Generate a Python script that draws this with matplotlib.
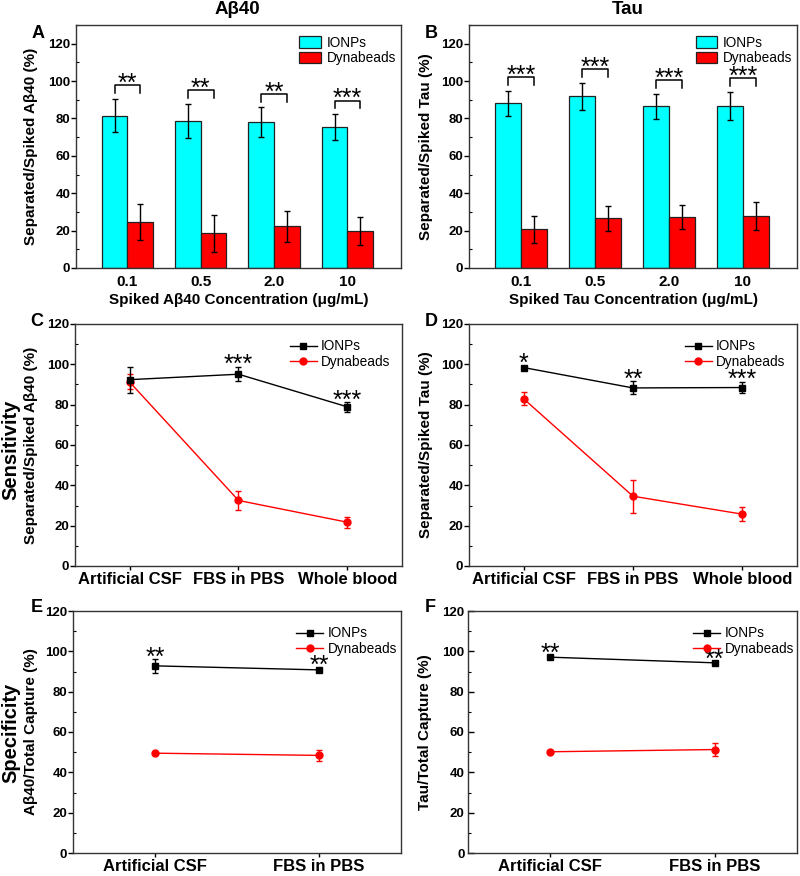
import matplotlib
matplotlib.use("Agg")
import matplotlib.pyplot as plt
import numpy as np
from matplotlib.ticker import MultipleLocator

plt.rcParams["font.family"] = ["Liberation Sans", "DejaVu Sans"]

# Panel A / B: capture vs. spiked concentration
conc_labels = ["0.1", "0.5", "2.0", "10"]
ab_ionp = [81.5, 78.6, 77.9, 75.4]
ab_ionp_err = [9.0, 9.2, 8.0, 7.0]
ab_dyna = [24.7, 18.6, 22.4, 19.7]
ab_dyna_err = [9.5, 10.0, 8.3, 7.4]
ab_stars = ["**", "**", "**", "***"]

tau_ionp = [88.1, 91.9, 86.5, 86.9]
tau_ionp_err = [6.8, 7.2, 6.8, 7.5]
tau_dyna = [20.6, 26.5, 27.2, 27.9]
tau_dyna_err = [7.2, 6.8, 6.3, 7.5]
tau_stars = ["***", "***", "***", "***"]

# Panel C / D: sensitivity in different media
media3 = ["Artificial CSF", "FBS in PBS", "Whole blood"]
sens_ab_ionp = [92.4, 95.1, 78.9]
sens_ab_ionp_err = [6.4, 3.6, 2.3]
sens_ab_dyna = [91.3, 32.5, 21.7]
sens_ab_dyna_err = [3.7, 4.6, 2.7]
sens_ab_stars = ["", "***", "***"]

sens_tau_ionp = [98.4, 88.3, 88.5]
sens_tau_ionp_err = [1.0, 3.2, 2.8]
sens_tau_dyna = [82.9, 34.6, 25.7]
sens_tau_dyna_err = [3.2, 8.2, 3.5]
sens_tau_stars = ["*", "**", "***"]

# Panel E / F: specificity
media2 = ["Artificial CSF", "FBS in PBS"]
spec_ab_ionp = [92.8, 90.8]
spec_ab_ionp_err = [3.3, 1.0]
spec_ab_dyna = [49.5, 48.4]
spec_ab_dyna_err = [0.8, 2.7]
spec_ab_stars = ["**", "**"]

spec_tau_ionp = [97.1, 94.3]
spec_tau_ionp_err = [0.8, 0.8]
spec_tau_dyna = [50.2, 51.3]
spec_tau_dyna_err = [0.8, 3.0]
spec_tau_stars = ["**", "**"]

W, H = 800, 876


def axes_at(fig, left, top, right, bottom):
    return fig.add_axes([left / W, 1 - bottom / H, (right - left) / W, (bottom - top) / H])


def style_y(ax, top, inward=False):
    ax.set_ylim(0, top)
    ax.yaxis.set_major_locator(MultipleLocator(20))
    ax.yaxis.set_minor_locator(MultipleLocator(10))
    if inward:
        ax.tick_params(axis="y", which="major", direction="in", length=4, width=1,
                       labelsize=9.5, pad=2.5)
    else:
        ax.tick_params(axis="y", which="major", direction="out", length=3.5, width=1,
                       labelsize=9.5, pad=0.6)
    ax.tick_params(axis="y", which="minor", direction="in", length=2.5, width=0.8)
    for lab in ax.get_yticklabels():
        lab.set_fontweight("bold")
    for s in ax.spines.values():
        s.set_linewidth(1.0)
        s.set_color("#333333")


def bar_panel(ax, ionp, ionp_err, dyna, dyna_err, stars, ylabel, xlabel):
    x = np.arange(len(conc_labels))
    w = 0.35
    ek = dict(ecolor="black", elinewidth=1, capsize=2.3, capthick=1)
    ax.bar(x - w / 2, ionp, w, yerr=ionp_err, color="#00FFFF", edgecolor="#222222",
           linewidth=0.9, error_kw=ek, label="IONPs")
    ax.bar(x + w / 2, dyna, w, yerr=dyna_err, color="#FF0000", edgecolor="#222222",
           linewidth=0.9, error_kw=ek, label="Dynabeads")
    for xi, v, e, s in zip(x, ionp, ionp_err, stars):
        base = v + e
        ax.plot([xi - w / 2, xi - w / 2, xi + w / 2, xi + w / 2],
                [base + 3, base + 7.2, base + 7.2, base + 3], color="black", lw=1.1)
        ax.text(xi, base + 4.1, s, ha="center", va="baseline", fontsize=18)
    ax.set_xlim(-0.70, 3.73)
    ax.set_xticks(x)
    ax.set_xticklabels(conc_labels, fontsize=11, fontweight="bold")
    ax.tick_params(axis="x", length=0, pad=5)
    style_y(ax, 130)
    ax.set_ylabel(ylabel, fontsize=11, fontweight="bold")
    ax.set_xlabel(xlabel, fontsize=11, fontweight="bold", labelpad=3)
    ax.legend(loc="upper right", bbox_to_anchor=(1.01, 0.99), frameon=False, fontsize=9.8,
              handlelength=1.6, handleheight=0.9, labelspacing=0.1, handletextpad=0.4,
              borderaxespad=0.2)


def line_panel(ax, cats, ionp, ionp_err, dyna, dyna_err, stars, ylabel, inward=False,
               legend_x=0.99):
    x = np.arange(1, len(cats) + 1)
    ax.errorbar(x, ionp, yerr=ionp_err, fmt="none", ecolor="black", capsize=2.3,
                capthick=1, elinewidth=1, zorder=3)
    ax.plot(x, ionp, color="black", marker="s", ms=4.5, lw=1, label="IONPs", zorder=3)
    ax.errorbar(x, dyna, yerr=dyna_err, fmt="none", ecolor="#FF0000", capsize=2.3,
                capthick=1, elinewidth=1, zorder=2)
    ax.plot(x, dyna, color="#FF0000", marker="o", ms=5, lw=1, label="Dynabeads", zorder=2)
    for xi, v, e, s in zip(x, ionp, ionp_err, stars):
        if s:
            ax.text(xi, v + e - 2.6, s, ha="center", va="baseline", fontsize=18)
    ax.set_xlim(0.5, len(cats) + 0.5)
    ax.set_xticks(x)
    ax.set_xticklabels(cats, fontsize=12, fontweight="bold")
    ax.tick_params(axis="x", direction="out", length=3, width=1, pad=1)
    style_y(ax, 120, inward)
    ax.set_ylabel(ylabel, fontsize=11, fontweight="bold")
    ax.legend(loc="upper right", bbox_to_anchor=(legend_x, 0.97), frameon=False,
              fontsize=9.8, handlelength=2.0, labelspacing=0.1, handletextpad=0.3,
              borderaxespad=0.2)


fig = plt.figure(figsize=(8, 8.76), dpi=100)

axA = axes_at(fig, 76, 25, 401, 268)
bar_panel(axA, ab_ionp, ab_ionp_err, ab_dyna, ab_dyna_err, ab_stars,
          "Separated/Spiked Aβ40 (%)", "Spiked Aβ40 Concentration (μg/mL)")
axA.yaxis.set_label_coords(-0.117, 0.5)

axB = axes_at(fig, 469, 25, 797, 268)
bar_panel(axB, tau_ionp, tau_ionp_err, tau_dyna, tau_dyna_err, tau_stars,
          "Separated/Spiked Tau (%)", "Spiked Tau Concentration (μg/mL)")
axB.yaxis.set_label_coords(-0.109, 0.5)

axC = axes_at(fig, 75, 324, 402, 566)
line_panel(axC, media3, sens_ab_ionp, sens_ab_ionp_err, sens_ab_dyna, sens_ab_dyna_err,
           sens_ab_stars, "Separated/Spiked Aβ40 (%)")
axC.yaxis.set_label_coords(-0.113, 0.5)

axD = axes_at(fig, 469, 324, 797, 566)
line_panel(axD, media3, sens_tau_ionp, sens_tau_ionp_err, sens_tau_dyna, sens_tau_dyna_err,
           sens_tau_stars, "Separated/Spiked Tau (%)")
axD.yaxis.set_label_coords(-0.11, 0.5)

axE = axes_at(fig, 73, 611, 401, 853)
line_panel(axE, media2, spec_ab_ionp, spec_ab_ionp_err, spec_ab_dyna, spec_ab_dyna_err,
           spec_ab_stars, "Aβ40/Total Capture (%)", legend_x=1.012)
axE.yaxis.set_label_coords(-0.107, 0.5)

axF = axes_at(fig, 468, 611, 797, 853)
line_panel(axF, media2, spec_tau_ionp, spec_tau_ionp_err, spec_tau_dyna, spec_tau_dyna_err,
           spec_tau_stars, "Tau/Total Capture (%)", inward=True, legend_x=1.015)
axF.yaxis.set_label_coords(-0.11, 0.5)

# titles, panel letters, row labels
fig.text(237 / W, 1 - 9 / H, "Aβ40", ha="center", va="center", fontsize=13.5, fontweight="bold")
fig.text(628 / W, 1 - 9 / H, "Tau", ha="center", va="center", fontsize=13.5, fontweight="bold")
for letter, px, py in [("A", 38, 34), ("B", 431, 34), ("C", 37, 322),
                       ("D", 431, 322), ("E", 37, 608), ("F", 430, 608)]:
    fig.text(px / W, 1 - py / H, letter, ha="center", va="center", fontsize=13,
             fontweight="bold")
fig.text(11 / W, 1 - 450 / H, "Sensitivity", rotation=90, ha="center", va="center",
         fontsize=14.5, fontweight="bold")
fig.text(11 / W, 1 - 733 / H, "Specificity", rotation=90, ha="center", va="center",
         fontsize=14.5, fontweight="bold")

fig.savefig("out.png", dpi=100)
